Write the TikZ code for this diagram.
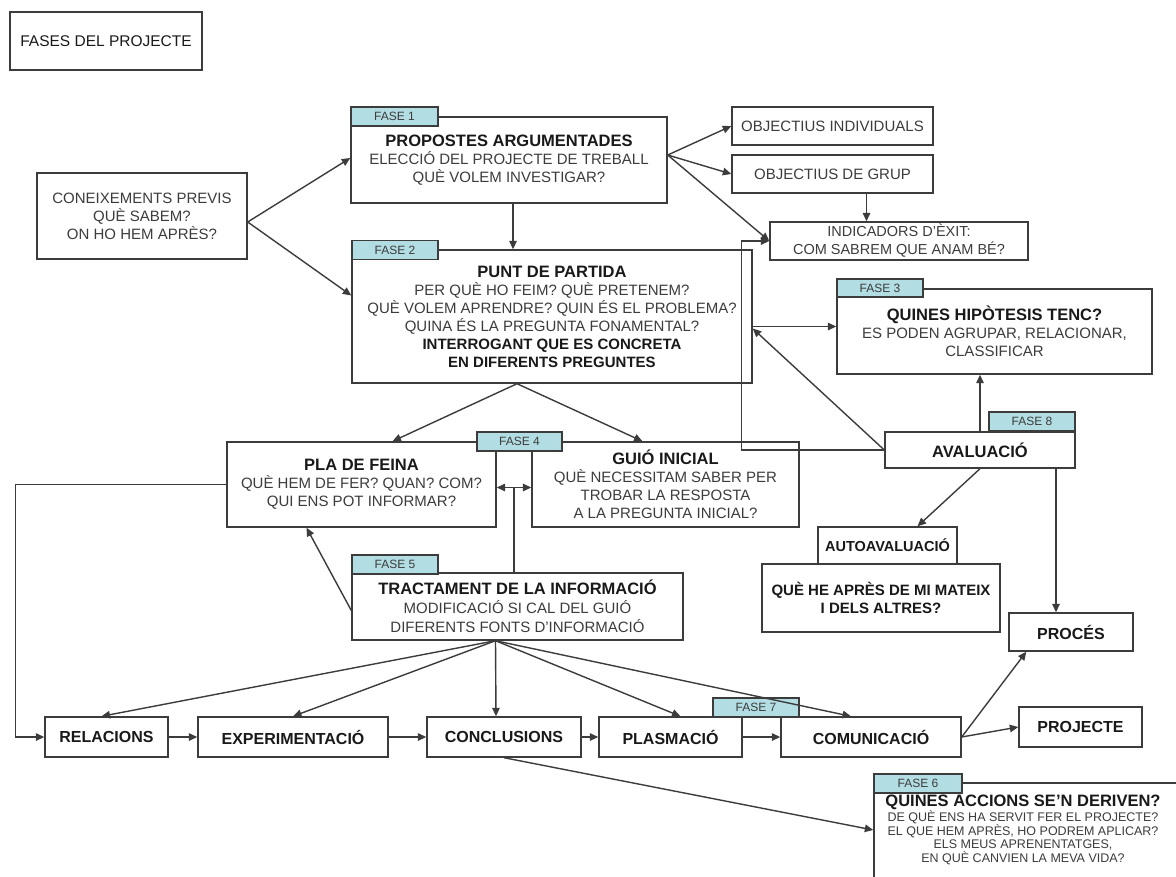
\documentclass[tikz,border=0pt]{standalone}
\usepackage{fontspec}
\setmainfont{Liberation Sans}
\usetikzlibrary{arrows.meta,calc}
\definecolor{tabblue}{RGB}{178,221,227}
\definecolor{linec}{RGB}{60,60,60}
\definecolor{txt}{RGB}{60,60,60}
\definecolor{hdc}{RGB}{25,25,25}
\newcommand{\hdtxt}[1]{{\fontsize{16.5}{19}\selectfont\bfseries\color{hdc}#1}}
\newcommand{\bdtxt}[1]{{\bfseries\color{hdc}#1}}
\begin{document}
\begin{tikzpicture}[x=1pt,y=-1pt,
  box/.style={draw=linec,line width=1.4pt,fill=white,inner sep=0pt,align=center,text=txt,font=\fontsize{15}{18}\selectfont},
  tab/.style={draw=linec,line width=1.4pt,fill=tabblue,inner sep=0pt,font=\fontsize{12}{13}\selectfont,text=txt},
  arr/.style={draw=linec,line width=1.4pt,-{Triangle[length=8.5pt,width=7.5pt]}},
  ln/.style={draw=linec,line width=1.4pt},
  bottombox/.style={box,minimum height=40pt,font=\fontsize{16}{18}\selectfont\bfseries,text=hdc}]
\clip (0,0) rectangle (1176,876);
\fill[white] (0,0) rectangle (1176,876);

% title
\node[box,minimum width=192pt,minimum height=58pt,font=\fontsize{15.5}{19}\selectfont,text=hdc] (title) at (106,41) {FASES DEL PROJECTE};

% boxes
\node[box,minimum width=210pt,minimum height=86pt] (conex) at (142,216) {CONEIXEMENTS PREVIS\\QUÈ SABEM?\\ON HO HEM APRÈS?};
\node[box,minimum width=316pt,minimum height=86pt] (f1) at (509,160) {\hdtxt{PROPOSTES ARGUMENTADES}\\ELECCIÓ DEL PROJECTE DE TREBALL\\QUÈ VOLEM INVESTIGAR?};
\node[box,minimum width=201pt,minimum height=38pt] (oi) at (832.5,126) {OBJECTIUS INDIVIDUALS};
\node[box,minimum width=201pt,minimum height=38pt] (og) at (832.5,174) {OBJECTIUS DE GRUP};
\node[box,minimum width=258pt,minimum height=38pt,font=\fontsize{14.5}{18}\selectfont] (ind) at (899,241) {INDICADORS D'ÈXIT:\\COM SABREM QUE ANAM BÉ?};
\node[box,minimum width=400pt,minimum height=133pt] (f2) at (552,316.5) {\hdtxt{PUNT DE PARTIDA}\\PER QUÈ HO FEIM? QUÈ PRETENEM?\\QUÈ VOLEM APRENDRE? QUIN ÉS EL PROBLEMA?\\QUINA ÉS LA PREGUNTA FONAMENTAL?\\\bdtxt{INTERROGANT QUE ES CONCRETA}\\\bdtxt{EN DIFERENTS PREGUNTES}};
\node[box,minimum width=315pt,minimum height=85pt] (f3) at (994.5,331.5) {\hdtxt{QUINES HIPÒTESIS TENC?}\\ES PODEN AGRUPAR, RELACIONAR,\\CLASSIFICAR};
\node[box,minimum width=190pt,minimum height=36pt] (aval) at (980,450) {\hdtxt{AVALUACIÓ}};
\node[box,minimum width=269pt,minimum height=85pt] (pla) at (361.5,484.5) {\hdtxt{PLA DE FEINA}\\QUÈ HEM DE FER? QUAN? COM?\\QUI ENS POT INFORMAR?};
\node[box,minimum width=267pt,minimum height=85pt] (guio) at (665.5,484.5) {\hdtxt{GUIÓ INICIAL}\\QUÈ NECESSITAM SABER PER\\TROBAR LA RESPOSTA\\A LA PREGUNTA INICIAL?};
\node[box,minimum width=139pt,minimum height=37pt,font=\fontsize{14.5}{18}\selectfont\bfseries,text=hdc] (autotab) at (887.5,545.5) {AUTOAVALUACIÓ};
\node[box,minimum width=238pt,minimum height=68pt,font=\fontsize{15}{18}\selectfont\bfseries,text=hdc] (auto) at (881,598) {QUÈ HE APRÈS DE MI MATEIX\\I DELS ALTRES?};
\node[bottombox,minimum width=124pt,minimum height=38pt] (proces) at (1071,632) {PROCÉS};
\node[box,minimum width=331pt,minimum height=67pt,font=\fontsize{15}{19}\selectfont] (f5) at (517.5,606.5) {\hdtxt{TRACTAMENT DE LA INFORMACIÓ}\\MODIFICACIÓ SI CAL DEL GUIÓ\\DIFERENTS FONTS D'INFORMACIÓ};
\node[bottombox,minimum width=123pt] (rel) at (106.5,737) {RELACIONS};
\node[bottombox,minimum width=190pt] (exp) at (293,737) {EXPERIMENTACIÓ};
\node[bottombox,minimum width=154pt] (conc) at (504,737) {CONCLUSIONS};
\node[bottombox,minimum width=143pt] (plas) at (670.5,737) {PLASMACIÓ};
\node[bottombox,minimum width=180pt] (com) at (871,737) {COMUNICACIÓ};
\node[bottombox,minimum width=123pt] (proj) at (1080.5,727) {PROJECTE};
\node[box,minimum width=312pt,minimum height=103pt] (f6) at (1030,834.5) {};
\node[align=center,inner sep=0pt,text=txt,font=\fontsize{12.5}{13.5}\selectfont] (t6) at (1023,830) {\hdtxt{QUINES ACCIONS SE'N DERIVEN?}\\DE QUÈ ENS HA SERVIT FER EL PROJECTE?\\EL QUE HEM APRÈS, HO PODREM APLICAR?\\ELS MEUS APRENENTATGES,\\EN QUÈ CANVIEN LA MEVA VIDA?};

% tabs
\node[tab,minimum width=87pt,minimum height=19pt] (tab1) at (394.5,116.5) {FASE 1};
\node[tab,minimum width=86pt,minimum height=19pt] (tab2) at (395,250) {FASE 2};
\node[tab,minimum width=86pt,minimum height=18pt] (tab3) at (880,288) {FASE 3};
\node[tab,minimum width=85pt,minimum height=19pt] (tab4) at (519.5,441.5) {FASE 4};
\node[tab,minimum width=86pt,minimum height=19pt] (tab5) at (395,564.5) {FASE 5};
\node[tab,minimum width=88pt,minimum height=19pt] (tab6) at (918,783.5) {FASE 6};
\node[tab,minimum width=86pt,minimum height=19pt] (tab7) at (756,707.5) {FASE 7};
\node[tab,minimum width=86pt,minimum height=19pt] (tab8) at (1032,421.5) {FASE 8};

% connectors
\draw[arr] ([yshift=-6pt]conex.east) -- ([yshift=2pt]f1.west);
\draw[arr] ([yshift=-6pt]conex.east) -- ([yshift=21pt]f2.west);
\draw[arr] ([yshift=5pt]f1.east) -- (oi.west);
\draw[arr] ([yshift=5pt]f1.east) -- (og.west);
\draw[arr] ([yshift=5pt]f1.east) -- (ind.west);
\draw[arr] ([xshift=34pt]og.south) -- ([xshift=34pt]og.south |- ind.north);
\draw[arr] ([xshift=4pt]f1.south) -- ([xshift=4pt]f1.south |- f2.north);
\draw[arr] ([xshift=-35pt]f2.south) -- ([xshift=31pt]pla.north);
\draw[arr] ([xshift=-35pt]f2.south) -- ([xshift=-23pt]guio.north);
\draw[arr] ([yshift=-10pt]f2.east) -- ([yshift=-10pt]f2.east -| f3.west);
\draw[arr] (aval.west) -- ([yshift=-12pt]f2.east);
\draw[arr] (aval.west) -| ([xshift=-28pt]ind.west) -- (ind.west);
\draw[arr] (aval.north) -- (aval.north |- f3.south);
\draw[arr] (aval.south) -- ([xshift=30pt]autotab.north);
\draw[arr] ([xshift=76pt]aval.south) -- ([xshift=76pt]aval.south |- proces.north);
\coordinate (j) at ($(pla.east)!0.5!(guio.west)+(0,3)$);
\draw[arr] (j) -- (j -| pla.east);
\draw[arr] (j) -- (j -| guio.west);
\draw[ln] (j) -- (j |- f5.north);
\draw[arr] ([yshift=-4pt]f5.west) -- ([xshift=-55pt]pla.south);
\draw[arr] (pla.west) -| ([xshift=-29pt]rel.west) -- (rel.west);
\coordinate (f5b) at ([xshift=-22pt]f5.south);
\draw[arr] (f5b) -- ([xshift=-5pt]rel.north);
\draw[arr] (f5b) -- (exp.north);
\draw[arr] (f5b) -- ([xshift=-8pt]conc.north);
\draw[arr] (f5b) -- ([xshift=10pt]plas.north);
\draw[arr] (f5b) -- ([xshift=-20pt]com.north);
\draw[arr] (rel.east) -- (exp.west);
\draw[arr] (exp.east) -- (conc.west);
\draw[arr] (conc.east) -- (plas.west);
\draw[arr] (plas.east) -- (com.west);
\draw[arr] (com.east) -- (proj.west);
\draw[arr] (com.east) -- ([xshift=18pt]proces.south west);
\draw[arr] (conc.south) -- ([yshift=4.5pt]f6.west);
\end{tikzpicture}
\end{document}
